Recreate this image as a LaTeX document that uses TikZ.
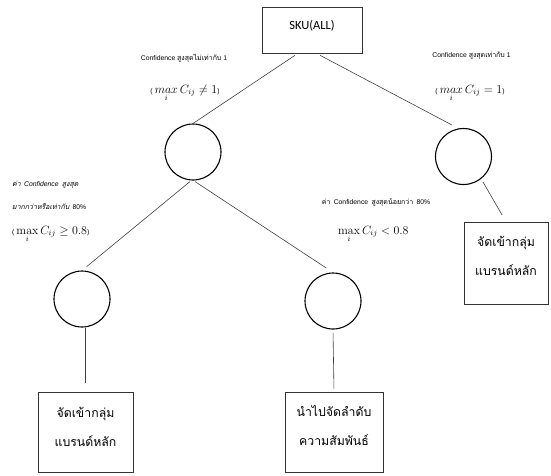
\documentclass[tikz,border=0pt]{standalone}
\usepackage{fontspec}
\usetikzlibrary{calc}
\newfontfamily\thaifont[Script=Thai]{Loma}
\newfontfamily\latfont{Liberation Sans}
\newfontfamily\skufont{Carlito}
\newcommand{\smallthai}{\thaifont\fontsize{7}{8}\selectfont}
\newcommand{\smalllat}{\latfont\fontsize{6.8}{8}\selectfont}
\begin{document}
\begin{tikzpicture}[x=1pt,y=-1pt,
  circ/.style={circle,draw=black,line width=1.1pt,minimum size=56pt,inner sep=0pt},
  boxx/.style={draw=black!80,line width=0.6pt,inner sep=0pt},
  boxtext/.style={align=center,inner sep=0pt,font=\thaifont\fontsize{12.3}{29}\selectfont},
  edge/.style={draw=black!75,line width=0.6pt},
  lbl/.style={inner sep=0pt},
  mlbl/.style={inner sep=0pt,font=\fontsize{12}{14}\selectfont}]
\useasboundingbox (0,0) rectangle (551,475);
% nodes
\node[boxx,minimum width=100pt,minimum height=46pt] (sku) at (312,30) {};
\node[inner sep=0pt,font=\skufont\fontsize{12.5}{14}\selectfont] (skut) at (312,26) {SKU(ALL)};
\node[circ] (c1) at (193,152) {};
\node[circ] (c2) at (463.5,156.5) {};
\node[circ] (c3) at (82,299) {};
\node[circ] (c4) at (333,301) {};
\node[boxx,minimum width=84pt,minimum height=82pt] (rb) at (506,263) {};
\node[boxtext] (rbt) at (506,256) {จัดเข้ากลุ่ม\\แบรนด์หลัก};
\node[boxx,minimum width=95pt,minimum height=80pt] (lb) at (85.5,432) {};
\node[boxtext] (lbt) at (85.5,427) {จัดเข้ากลุ่ม\\แบรนด์หลัก};
\node[boxx,minimum width=98pt,minimum height=80pt] (mb) at (334,432) {};
\node[boxtext] (mbt) at (334,425) {นำไปจัดลำดับ\\ความสัมพันธ์};
% connectors
\draw[edge] ($(sku.south)+(-17,2)$) -- (c1.north);
\draw[edge] ($(sku.south)+(8,2)$) -- ($(c2.center)+(-11.5,-31.5)$);
\draw[edge,shorten >=8pt] ($(c2.center)+(19.5,25.5)$) -- (rb.north);
\draw[edge,shorten >=6pt] ($(c1.south)+(-3,1)$) -- (c3.north);
\draw[edge,shorten >=8pt] ($(c1.south)+(2,1)$) -- (c4.north);
\draw[edge,shorten >=9pt] ($(c3.south)+(3,0)$) -- ($(lb.north)+(-0.5,0)$);
\draw[edge,shorten <=3pt,shorten >=3pt] (c4.south) -- (mb.north);
% labels
\node[lbl] (l1) at (184,58) {\smalllat Confidence {\smallthai สูงสุดไม่เท่ากับ} 1};
\node[mlbl] (l2) at (185,93) {{\smalllat(}\,$\mathop{max}\limits_i C_{ij} \neq 1${\smalllat)}};
\node[lbl] (r1) at (471.5,56) {\smalllat Confidence {\smallthai สูงสุดเท่ากับ} 1};
\node[mlbl] (r2) at (470,93) {{\smalllat(}\,$\mathop{max}\limits_i C_{ij} = 1${\smalllat)}};
\node[lbl,anchor=west] (ll1) at (12,185) {{\smallthai\itshape ค่า} {\smalllat\itshape Confidence} {\smallthai\itshape สูงสุด}};
\node[lbl,anchor=west] (ll2) at (12,207) {{\smallthai\itshape มากกว่าหรือเท่ากับ} {\smalllat 80\%}};
\node[mlbl,anchor=west] (ll3) at (12,234) {{\smalllat(}\,$\max\limits_i C_{ij} \geq 0.8${\smalllat)}};
\node[lbl] (m1) at (376,202) {{\smallthai ค่า} {\smalllat Confidence} {\smallthai สูงสุดน้อยกว่า} {\smalllat 80\%}};
\node[mlbl,anchor=west] (m2) at (338,234) {$\max\limits_i C_{ij} < 0.8$};
\end{tikzpicture}
\end{document}
